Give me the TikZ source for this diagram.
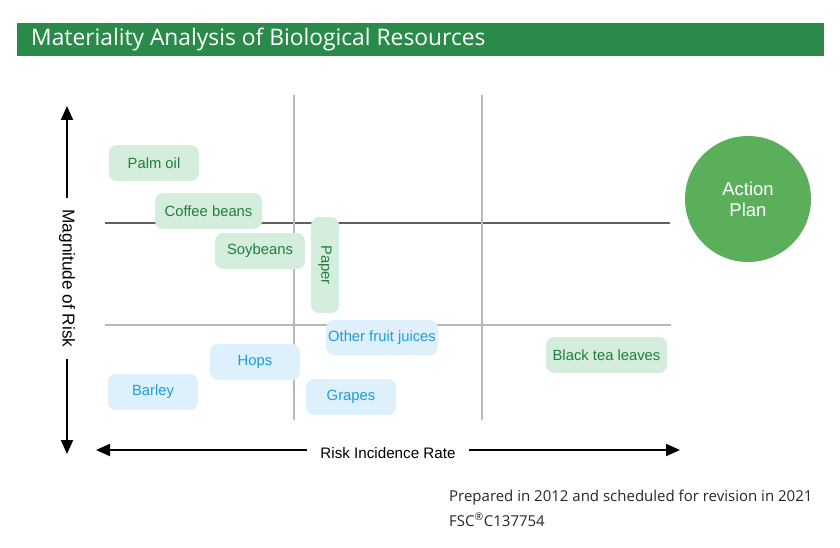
\documentclass[tikz,border=0pt]{standalone}
\usepackage{fontspec}
\setmainfont{Open Sans}
\newfontfamily\plainsans{Liberation Sans}
\usetikzlibrary{arrows.meta}
\definecolor{titlegreen}{RGB}{42,138,74}
\definecolor{circgreen}{RGB}{92,175,90}
\definecolor{gfill}{RGB}{213,237,220}
\definecolor{gtext}{RGB}{30,128,60}
\definecolor{bfill}{RGB}{221,240,251}
\definecolor{btext}{RGB}{26,158,224}
\tikzset{
  gbox/.style={fill=gfill, text=gtext, rounded corners=8pt, minimum height=36pt, inner sep=0pt, font=\plainsans\fontsize{14.8}{17}\selectfont},
  bbox/.style={fill=bfill, text=btext, rounded corners=8pt, minimum height=36pt, inner sep=0pt, font=\plainsans\fontsize{14.8}{17}\selectfont},
  darkgrid/.style={draw=black!62, line width=1.2pt},
  lightgrid/.style={draw=black!28, line width=1.2pt},
  axis/.style={line width=2pt, -{Triangle[length=14pt,width=12pt]}},
  axlabel/.style={inner ysep=0pt},
}
\begin{document}
\begin{tikzpicture}[x=1pt,y=-1pt]
\useasboundingbox (0,0) rectangle (840,548);
% title bar
\node[fill=titlegreen, minimum width=807pt, minimum height=33pt, inner sep=0pt, anchor=north west] (bar) at (17,23) {};
\node[text=white, anchor=west, font=\fontsize{22.8}{26}\selectfont, inner sep=0pt] (title) at (31,40) {Materiality Analysis of Biological Resources};
% grid
\coordinate (h1a) at (105,223); \coordinate (h1b) at (670,223);
\coordinate (h2a) at (105,325); \coordinate (h2b) at (671,325);
\coordinate (v1a) at (294,95); \coordinate (v1b) at (294,420);
\coordinate (v2a) at (482,95); \coordinate (v2b) at (482,420);
\draw[darkgrid] (h1a) -- (h1b);
\draw[lightgrid] (h2a) -- (h2b);
\draw[lightgrid] (v1a) -- (v1b);
\draw[lightgrid] (v2a) -- (v2b);
% axes
\node[axlabel, rotate=-90, inner xsep=11pt, font=\plainsans\fontsize{17.2}{19}\selectfont] (ylab) at (67,278.5) {Magnitude of Risk};
\coordinate (ytop) at (67,106);
\coordinate (ybot) at (67,454);
\draw[axis] (ylab.west) -- (ytop);
\draw[axis] (ylab.east) -- (ybot);
\node[axlabel, inner xsep=13pt, font=\plainsans\fontsize{15.2}{17}\selectfont] (xlab) at (388,453) {Risk Incidence Rate};
\coordinate (xleft) at (96,450);
\coordinate (xright) at (680,450);
\draw[axis] (xlab.west |- xleft) -- (xleft);
\draw[axis] (xlab.east |- xright) -- (xright);
% boxes
\node[gbox, minimum width=90pt] (palm) at (154,163) {Palm oil};
\node[gbox, minimum width=107pt] (coffee) at (208.5,211) {Coffee beans};
\node[gbox, minimum width=90pt] (soy) at (260,251) {Soybeans};
\node[gbox, minimum width=96pt, minimum height=28pt, rotate=-90] (paper) at (325,265) {Paper};
\node[gbox, minimum width=121pt] (tea) at (606.5,355) {Black tea leaves};
\node[bbox, minimum width=112pt, minimum height=35pt] (juice) at (382,337.5) {Other fruit juices};
\node[bbox, minimum width=90pt] (hops) at (255,362) {Hops};
\node[bbox, minimum width=90pt] (barley) at (153,392) {Barley};
\node[bbox, minimum width=90pt] (grapes) at (351,397) {Grapes};
% action plan
\node[circle, fill=circgreen, minimum size=126pt, inner sep=0pt, text=white, align=center, font=\plainsans\fontsize{18.5}{21}\selectfont] (action) at (748,199) {Action\\Plan};
% footer
\node[anchor=north west, align=left, inner sep=0pt, font=\fontsize{15}{24.5}\selectfont, text=black!85] (foot) at (449,490) {Prepared in 2012 and scheduled for revision in 2021\\FSC\textsuperscript{\textregistered}C137754};
\end{tikzpicture}
\end{document}
